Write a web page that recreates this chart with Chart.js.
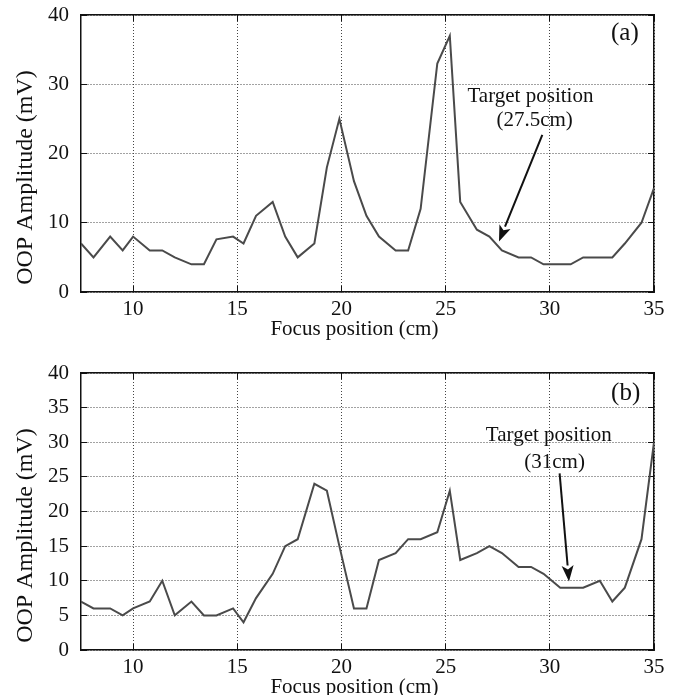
<!DOCTYPE html>
<html>
<head>
<meta charset="utf-8">
<script src="https://cdn.jsdelivr.net/npm/chart.js@4.4.1/dist/chart.umd.min.js"></script>
<style>
    html, body { margin: 0; padding: 0; background: #fff; overflow: hidden; }
    .panel { position: absolute; left: 0; width: 675px; height: 347px; }
    #panelA { top: 0; }
    #panelB { top: 358px; }
</style>
</head>
<body>
<div class="panel" id="panelA"><canvas id="chartA" width="675" height="347"></canvas></div>
<div class="panel" id="panelB"><canvas id="chartB" width="675" height="347"></canvas></div>
<script>
    "use strict";
    // focus positions (cm), shared by both scans
    const focusPos = [7.5, 8.1, 8.9, 9.5, 10.0, 10.8, 11.4, 12.0, 12.8, 13.4, 14.0, 14.8, 15.3, 15.9,
        16.7, 17.3, 17.9, 18.7, 19.3, 19.9, 20.6, 21.2, 21.8, 22.6, 23.2, 23.8, 24.6, 25.2, 25.7,
        26.5, 27.1, 27.7, 28.5, 29.1, 29.7, 30.5, 31.0, 31.6, 32.4, 33.0, 33.6, 34.4, 35.0];
    // OOP amplitude (mV), panel (a)
    const ampA = [7, 5, 8, 6, 8, 6, 6, 5, 4, 4, 7.6, 8, 7, 11,
        13, 8, 5, 7, 18, 25, 16, 11, 8, 6, 6, 12, 33, 37, 13,
        9, 8, 6, 5, 5, 4, 4, 4, 5, 5, 5, 7, 10, 15];
    // OOP amplitude (mV), panel (b)
    const ampB = [7, 6, 6, 5, 6, 7, 10, 5, 7, 5, 5, 6, 4, 7.5,
        11, 15, 16, 24, 23, 15, 6, 6, 13, 14, 16, 16, 17, 23, 13,
        14, 15, 14, 12, 12, 11, 9, 9, 9, 10, 7, 9, 16, 30];

    const xRange = [7.5, 35];
    const yRange = [0, 40];
    const xTitle = 'Focus position (cm)';
    const yTitle = 'OOP Amplitude (mV)';

    // annotations, in data units
    const noteA = {
        tag: '(a)', tagAt: [33.6, 37.4],
        lines: ['Target position', '(27.5cm)'], linesAt: [[29.07, 28.2], [29.27, 24.8]],
        arrowFrom: [29.64, 22.7], arrowTo: [27.56, 7.3]
    };
    const noteB = {
        tag: '(b)', tagAt: [33.64, 37.1],
        lines: ['Target position', '(31cm)'], linesAt: [[29.95, 31.0], [30.23, 27.1]],
        arrowFrom: [30.47, 25.5], arrowTo: [30.92, 9.9]
    };

    Chart.defaults.font.family = '"Liberation Serif", "Times New Roman", serif';
    Chart.defaults.font.size = 21;
    Chart.defaults.color = '#111';

    const notesPlugin = {
        id: 'notes',
        afterDatasetsDraw(chart, args, opts) {
            const ctx = chart.ctx;
            const px = v => chart.scales.x.getPixelForValue(v);
            const py = v => chart.scales.y.getPixelForValue(v);
            ctx.save();
            ctx.fillStyle = '#111';
            ctx.textAlign = 'center';
            ctx.textBaseline = 'middle';
            ctx.font = '21px "Liberation Serif"';
            opts.lines.forEach(function (t, i) {
                ctx.fillText(t, px(opts.linesAt[i][0]), py(opts.linesAt[i][1]));
            });
            ctx.font = '25px "Liberation Serif"';
            ctx.fillText(opts.tag, px(opts.tagAt[0]), py(opts.tagAt[1]));

            // arrow
            const x1 = px(opts.arrowFrom[0]), y1 = py(opts.arrowFrom[1]);
            const x2 = px(opts.arrowTo[0]), y2 = py(opts.arrowTo[1]);
            const ang = Math.atan2(y2 - y1, x2 - x1);
            const len = 16, half = 6;
            const c = Math.cos(ang), s = Math.sin(ang);
            ctx.strokeStyle = '#111';
            ctx.lineWidth = 2;
            ctx.beginPath();
            ctx.moveTo(x1, y1);
            ctx.lineTo(x2 - c * len, y2 - s * len);
            ctx.stroke();
            ctx.beginPath();
            ctx.moveTo(x2, y2);
            ctx.lineTo(x2 - c * len - s * half, y2 - s * len + c * half);
            ctx.lineTo(x2 - c * (len - 4), y2 - s * (len - 4));
            ctx.lineTo(x2 - c * len + s * half, y2 - s * len - c * half);
            ctx.closePath();
            ctx.fill();
            ctx.restore();
        }
    };

    // fixed axis sizes, and no extra room asked for by the edge labels
    function fixSize(w, h) {
        return function (scale) {
            if (w !== null) scale.width = w;
            if (h !== null) scale.height = h;
            scale.paddingTop = 0;
            scale.paddingBottom = 0;
            scale.paddingLeft = 0;
            scale.paddingRight = 0;
        };
    }

    function makeChart(id, amps, yStep, note) {
        const points = focusPos.map(function (x, i) {
            return {x: x, y: amps[i]};
        });
        const gridStyle = {color: '#444', lineWidth: 1, drawTicks: true, tickLength: -6, tickColor: '#111'};
        const edgeTicks = {display: true, drawOnChartArea: false, drawTicks: true, tickLength: -6, tickColor: '#111'};
        const frame = {display: true, color: '#111', width: 1.5};
        // pad titles with trailing spaces so the visible text sits where the original has it
        const xTitlePadded = xTitle + '\u00a0'.repeat(5);
        const yTitlePadded = yTitle + '\u00a0'.repeat(8);
        return new Chart(document.getElementById(id), {
            type: 'line',
            data: {
                datasets: [{
                    data: points,
                    borderColor: '#4a4a4a',
                    borderWidth: 2,
                    pointRadius: 0,
                    tension: 0
                }]
            },
            plugins: [notesPlugin],
            options: {
                responsive: false,
                animation: false,
                layout: {padding: {left: 0, right: 21, top: 15, bottom: 0}},
                plugins: {
                    legend: {display: false},
                    tooltip: {enabled: false},
                    notes: note
                },
                scales: {
                    x: {
                        type: 'linear',
                        position: 'bottom',
                        min: xRange[0],
                        max: xRange[1],
                        grid: gridStyle,
                        border: Object.assign({dash: [1, 2]}, frame),
                        ticks: {stepSize: 5, includeBounds: false, padding: 11, maxRotation: 0},
                        title: {display: true, text: xTitlePadded, padding: {top: 0, bottom: 5}},
                        afterFit: fixSize(null, 55)
                    },
                    y: {
                        position: 'left',
                        min: yRange[0],
                        max: yRange[1],
                        grid: gridStyle,
                        border: Object.assign({dash: [1, 2]}, frame),
                        ticks: {stepSize: yStep, padding: 18},
                        title: {display: true, text: yTitlePadded, font: {size: 24}, padding: {top: 11, bottom: 0}},
                        afterFit: fixSize(81, null)
                    },
                    x2: {
                        type: 'linear',
                        position: 'top',
                        min: xRange[0],
                        max: xRange[1],
                        grid: edgeTicks,
                        border: frame,
                        ticks: {display: false, stepSize: 5, includeBounds: false},
                        afterFit: fixSize(null, 0)
                    },
                    y2: {
                        position: 'right',
                        min: yRange[0],
                        max: yRange[1],
                        grid: edgeTicks,
                        border: frame,
                        ticks: {display: false, stepSize: yStep},
                        afterFit: fixSize(0, null)
                    }
                }
            }
        });
    }

    makeChart('chartA', ampA, 10, noteA);
    makeChart('chartB', ampB, 5, noteB);
</script>
</body>
</html>
